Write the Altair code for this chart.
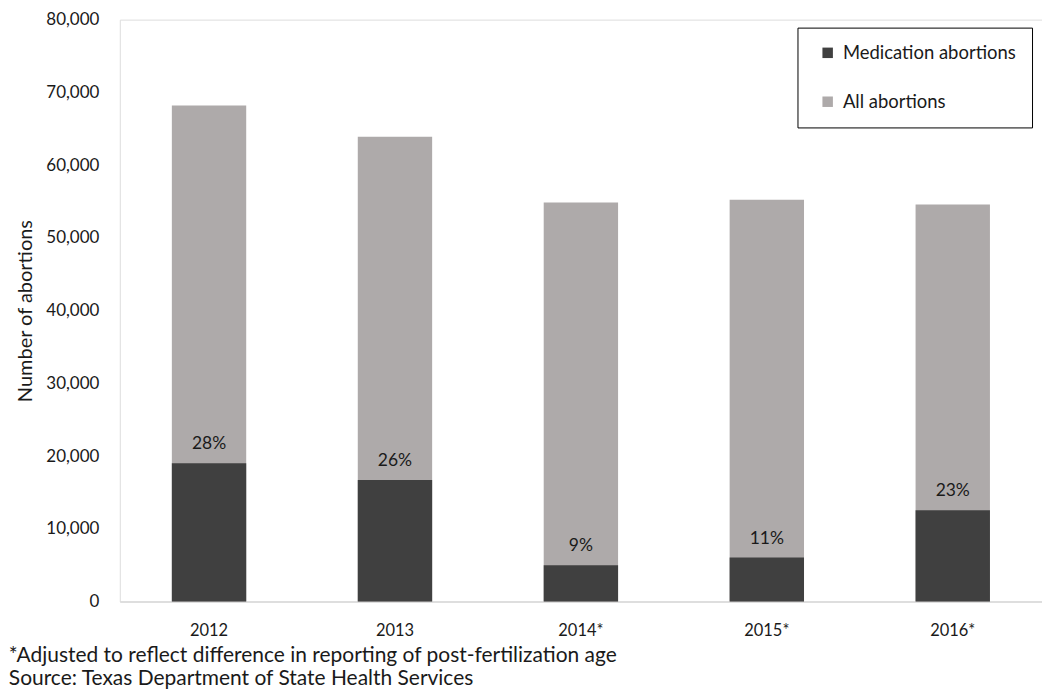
import altair as alt
import pandas as pd

years = ["2012", "2013", "2014*", "2015*", "2016*"]
all_abortions = [68200, 63900, 54850, 55250, 54600]
med_abortions = [19000, 16700, 5000, 6050, 12550]
pct_labels = ["28%", "26%", "9%", "11%", "23%"]
series_names = ["Medication abortions", "All abortions"]
series_colors = ["#404040", "#AEAAAA"]

df = pd.DataFrame({
    "year": years,
    "all": all_abortions,
    "med": med_abortions,
    "pct": pct_labels,
})

FONT = "Lato"
TXT = "#1a1a1a"

color_scale = alt.Scale(domain=series_names, range=series_colors)
x_enc = alt.X("year:N", sort=years, title=None,
              scale=alt.Scale(paddingInner=0.6, paddingOuter=0.28),
              axis=alt.Axis(labelAngle=0, ticks=False, domainColor="#D9D9D9",
                            domainWidth=1.5, labelPadding=21, labelFontSize=16.5,
                            labelFont=FONT, labelColor=TXT))
y_scale = alt.Scale(domain=[0, 80000])
y_axis = alt.Axis(values=list(range(0, 80001, 10000)), format=",.0f", grid=False,
                  ticks=False, domain=False, labelFontSize=17, labelFont=FONT,
                  labelColor=TXT, labelPadding=21, title="Number of abortions",
                  titleFontSize=20, titleFont=FONT, titleFontWeight="normal",
                  titleColor=TXT, titlePadding=10)

base = alt.Chart(df)

all_bars = base.transform_calculate(series="'All abortions'").mark_bar().encode(
    x=x_enc,
    y=alt.Y("all:Q", scale=y_scale, axis=y_axis),
    color=alt.Color("series:N", scale=color_scale, sort=series_names,
                    legend=alt.Legend(title=None, orient="none", legendX=679, legendY=8,
                                      strokeColor="black",
                                      padding=16, rowPadding=30, symbolType="square",
                                      symbolSize=110, symbolStrokeWidth=0,
                                      symbolOffset=5, labelLimit=400,
                                      labelFontSize=18.5, labelFont=FONT, labelColor=TXT,
                                      labelOffset=6, fillColor="white")),
)

med_bars = base.transform_calculate(series="'Medication abortions'").mark_bar().encode(
    x=alt.X("year:N", sort=years),
    y=alt.Y("med:Q", scale=y_scale),
    color=alt.Color("series:N", scale=color_scale, sort=series_names),
)

labels = base.mark_text(baseline="middle", dy=-19, fontSize=17.5, font=FONT, color=TXT).encode(
    x=alt.X("year:N", sort=years),
    y=alt.Y("med:Q", scale=y_scale),
    text="pct:N",
)

chart = alt.layer(all_bars, med_bars, labels).properties(
    width=924, height=583,
    title=alt.TitleParams(
        ["*Adjusted to reflect difference in reporting of post-fertilization age",
         "Source: Texas Department of State Health Services"],
        orient="bottom", anchor="start", frame="bounds", fontSize=21, font=FONT,
        fontWeight="normal", color=TXT, lineHeight=23.5, offset=6, dx=-7),
).configure_view(stroke=None).configure_legend(strokeWidth=1.5).configure(
    padding={"left": 0, "right": 0, "top": 2, "bottom": 0})

chart.save("out.html", embed_options={"renderer": "svg", "actions": False})
